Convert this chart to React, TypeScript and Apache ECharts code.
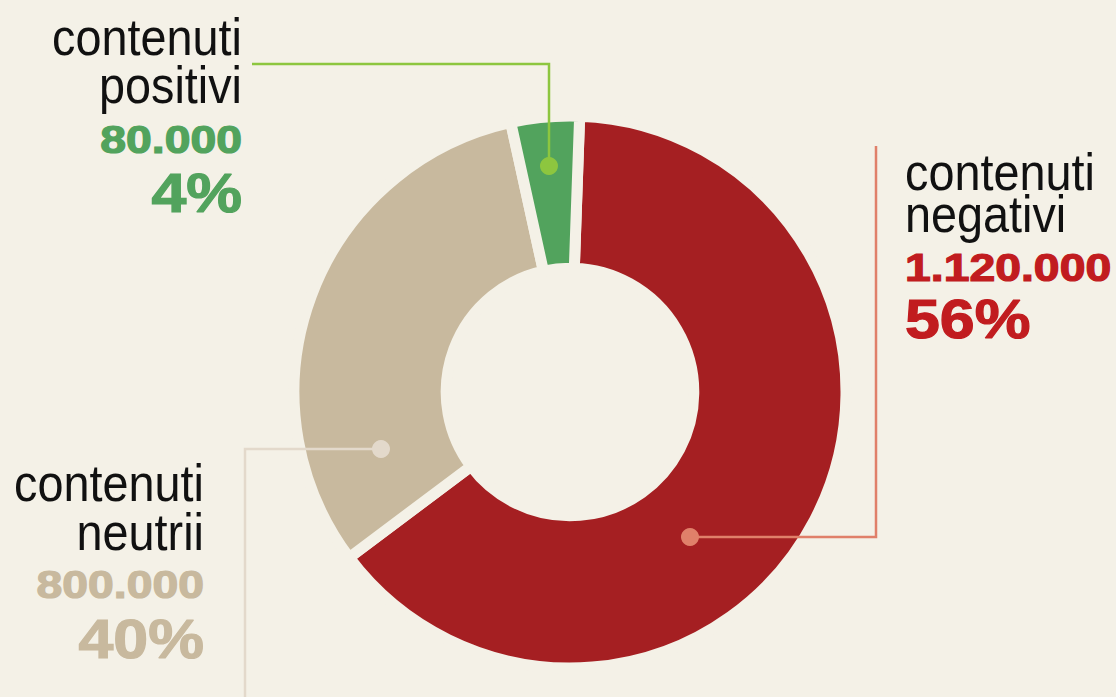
import React, { useEffect, useRef } from "react";
import * as echarts from "echarts";

// ---- data ----
const categories = ["negativi", "neutrii", "positivi"];
const counts = [1120000, 800000, 80000];
const percents = [56, 40, 4];
// slice sizes as drawn in the reference picture (shares of the ring, %)
const sliceShares = [64.2, 31.8, 4.0];

const BG = "#f4f1e7";
const sliceColors = ["#a51f22", "#c8b99e", "#52a35d"];
const textColors = ["#c11c1f", "#c8b99e", "#52a35d"];
const leaderColors = ["#e0806a", "#e3d9cb", "#8dc63f"];

const fmt = (n: number) => String(n).replace(/\B(?=(\d{3})+(?!\d))/g, ".");

// label layout: anchor x, baseline of first line, alignment, baseline offsets of the 4 lines
const labelLayout = [
  { x: 905, y: 190, align: "left", gaps: [0, 42, 91, 148] },
  { x: 204, y: 501, align: "right", gaps: [0, 49, 97, 157] },
  { x: 242, y: 55, align: "right", gaps: [0, 48, 98, 157] },
];

const leaders = [
  [[690, 537], [876, 537], [876, 146]],
  [[381, 449], [245, 449], [245, 700]],
  [[549, 166], [549, 64], [252, 64]],
];

function textEl(x: number, baseline: number, align: string, text: string, fs: number, weight: string, color: string, sx: number, heavy: boolean) {
  return {
    type: "group",
    x,
    y: baseline - 0.35 * fs,
    scaleX: sx,
    children: [
      {
        type: "text",
        x: 0,
        y: 0,
        style: {
          text,
          fill: color,
          stroke: heavy ? color : undefined,
          lineWidth: heavy ? 1.2 : 0,
          font: `${weight} ${fs}px "Liberation Sans", Arial, sans-serif`,
          textAlign: align,
          textVerticalAlign: "middle",
          verticalAlign: "middle",
        },
      },
    ],
  };
}

export default function App() {
  const ref = useRef<HTMLDivElement>(null);
  useEffect(() => {
    if (!ref.current) return;
    const chart = echarts.init(ref.current, null, { renderer: "svg" });
    const graphics: any[] = [];
    leaders.forEach((pts, i) => {
      graphics.push({
        type: "polyline",
        shape: { points: pts },
        style: { stroke: leaderColors[i], lineWidth: 2.5, fill: "none" },
        z: 10,
      });
      graphics.push({
        type: "circle",
        shape: { cx: pts[0][0], cy: pts[0][1], r: 9 },
        style: { fill: leaderColors[i] },
        z: 11,
      });
    });
    categories.forEach((c, i) => {
      const L = labelLayout[i];
      graphics.push(textEl(L.x, L.y + L.gaps[0], L.align, "contenuti", 52, "normal", "#111111", 0.9, false));
      graphics.push(textEl(L.x, L.y + L.gaps[1], L.align, c, 52, "normal", "#111111", 0.9, false));
      graphics.push(textEl(L.x, L.y + L.gaps[2], L.align, fmt(counts[i]), 38, "bold", textColors[i], 1.22, true));
      graphics.push(textEl(L.x, L.y + L.gaps[3], L.align, percents[i] + "%", 56, "bold", textColors[i], 1.12, true));
    });
    chart.setOption({
      animation: false,
      backgroundColor: BG,
      series: [
        {
          type: "pie",
          center: [570, 392],
          radius: [123.8, 276],
          startAngle: 88,
          clockwise: true,
          silent: true,
          label: { show: false },
          labelLine: { show: false },
          itemStyle: { borderColor: BG, borderWidth: 11 },
          data: sliceShares.map((v, i) => ({
            name: categories[i],
            value: v,
            itemStyle: { color: sliceColors[i] },
          })),
        },
      ],
      graphic: graphics,
    });
    return () => chart.dispose();
  }, []);
  return (
    <div
      ref={ref}
      style={{ position: "fixed", left: 0, top: 0, width: 1116, height: 697 }}
    />
  );
}
